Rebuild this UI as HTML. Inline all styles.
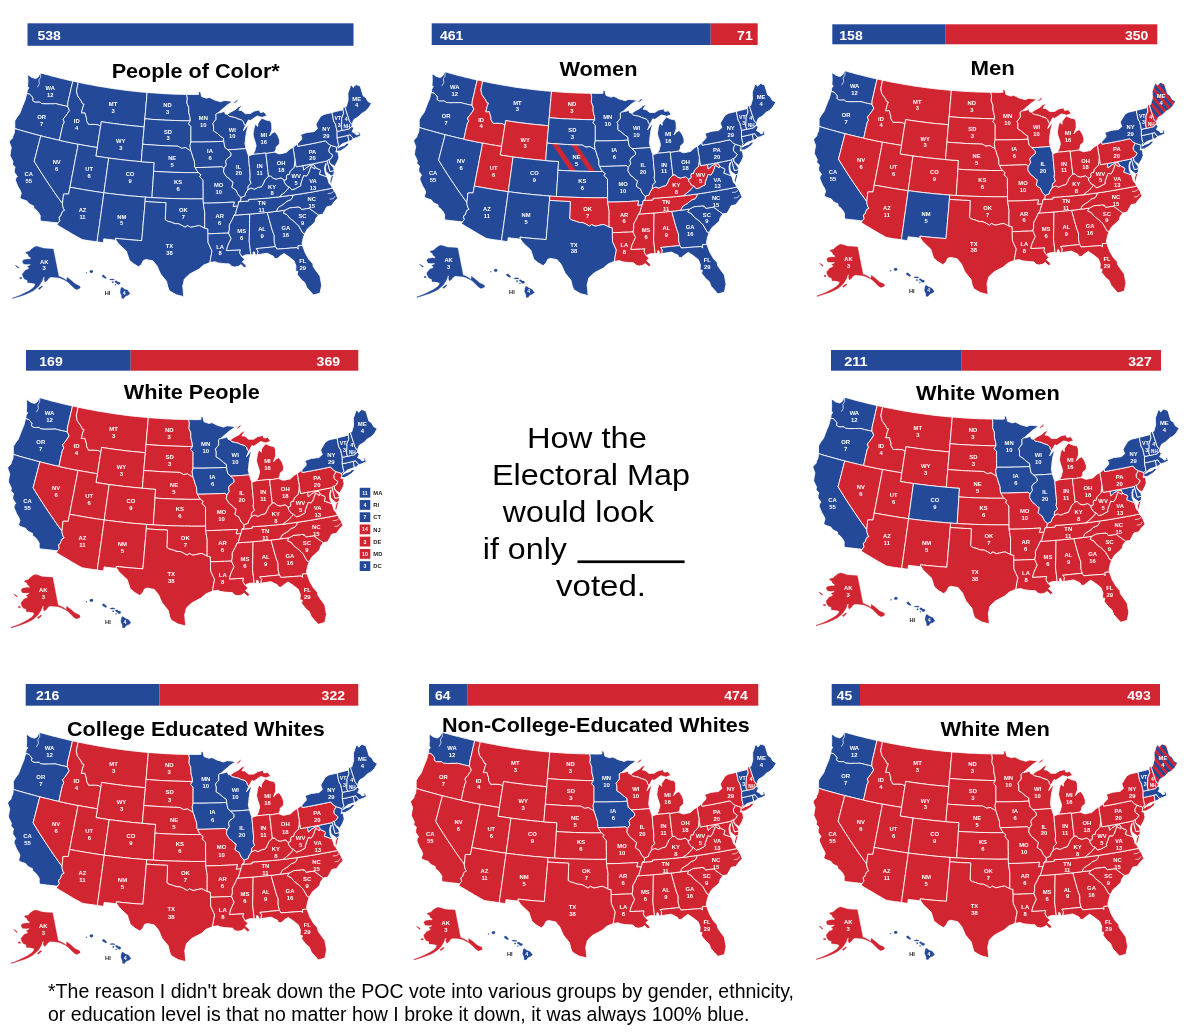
<!DOCTYPE html>
<html><head><meta charset="utf-8"><title>Electoral Map</title>
<style>
html,body{margin:0;padding:0;background:#fff;}
body{width:1200px;height:1032px;overflow:hidden;}
svg{display:block;font-family:"Liberation Sans",Arial,sans-serif;}
.t{font-weight:700;font-size:21px;fill:#000;}
.b{font-weight:700;font-size:13.7px;fill:#fff;}
.l{font-weight:700;font-size:5.2px;fill:#fff;text-anchor:middle;}
.st use{stroke:#fff;stroke-width:0.85;stroke-linejoin:round;}
.c{font-size:29px;fill:#000;}
.f{font-size:19.4px;fill:#000;}
</style></head><body>
<svg width="1200" height="1032" viewBox="0 0 1200 1032">
<defs>
<pattern id="sb" width="60" height="10" patternUnits="userSpaceOnUse" patternTransform="translate(148.7,146.8) rotate(-34)"><rect width="60" height="10" fill="#244999"/><path d="M0,0h4.8v10h-4.8zM15.5,0h4.8v10h-4.8z" fill="#d22532"/></pattern>
<pattern id="sr" width="5.6" height="10" patternUnits="userSpaceOnUse" patternTransform="translate(349.5,85) rotate(-40)"><rect width="5.6" height="10" fill="#244999"/><rect width="2.8" height="10" fill="#d22532"/></pattern>

<path id="sWA" d="M26.8,93.5 27.4,90.1 28.9,87.8 27.6,87.0 27.7,84.3 27.9,81.7 27.8,79.2 27.7,76.6 28.1,74.7 29.9,76.1 31.7,77.4 33.7,78.0 35.7,78.6 38.2,77.1 39.6,74.4 40.7,72.9 43.3,73.7 46.0,74.4 48.6,75.1 51.3,75.9 54.0,76.6 56.7,77.2 59.3,77.9 62.0,78.6 64.7,79.2 67.4,79.9 70.1,80.5 72.8,81.1 72.0,84.7 71.1,88.3 70.3,91.9 69.5,95.5 68.6,99.1 67.8,102.8 67.7,106.5 65.3,105.9 62.8,105.4 60.4,104.8 58.0,104.2 55.6,103.6 53.5,103.8 51.3,103.8 49.1,103.8 45.9,103.9 43.8,103.7 41.6,103.6 40.1,102.1 37.6,102.2 35.0,102.2 32.5,100.6 33.0,98.1 31.2,95.7 29.7,94.3Z"/>
<path id="sOR" d="M14.8,128.5 14.8,124.0 14.8,120.9 16.9,117.3 19.7,113.6 21.3,109.5 22.8,105.5 24.0,102.7 25.2,99.8 26.0,96.7 26.8,93.5 29.7,94.3 31.2,95.7 33.0,98.1 32.5,100.6 35.0,102.2 37.6,102.2 40.1,102.1 41.6,103.6 43.8,103.7 45.9,103.9 49.1,103.8 51.3,103.8 53.5,103.8 55.6,103.6 58.0,104.2 60.4,104.8 62.8,105.4 65.3,105.9 67.7,106.5 69.5,110.4 67.5,113.5 66.1,115.5 63.1,119.2 63.9,121.2 64.3,122.2 62.9,124.7 62.0,128.6 61.1,132.5 60.3,136.4 59.4,140.3 56.3,139.6 53.2,138.9 50.1,138.1 47.0,137.4 43.9,136.6 40.8,135.8 37.9,135.1 35.0,134.3 32.1,133.5 29.2,132.7 26.3,131.9 23.4,131.1 20.5,130.3 17.6,129.4Z"/>
<path id="sCA" d="M40.4,221.0 40.1,218.1 40.3,215.8 38.7,212.8 35.8,209.4 33.8,208.5 33.7,206.0 31.4,204.9 29.1,203.8 26.8,200.9 24.0,200.0 21.1,199.0 20.0,197.4 21.3,193.2 20.1,190.2 18.1,186.9 16.8,183.8 15.5,180.7 15.8,178.1 17.3,176.7 16.3,175.1 14.3,172.2 14.4,169.5 15.1,167.0 12.3,164.3 13.0,161.8 11.5,158.6 10.0,155.5 10.6,151.1 11.3,147.6 9.4,142.5 9.5,141.1 12.6,137.9 12.8,136.2 14.3,133.0 14.8,128.5 17.6,129.4 20.5,130.3 23.4,131.1 26.3,131.9 29.2,132.7 32.1,133.5 35.0,134.3 37.9,135.1 40.8,135.8 39.7,140.1 38.6,144.3 37.5,148.5 36.4,152.8 35.3,157.0 34.2,161.2 36.6,165.1 39.0,169.0 41.5,172.9 44.0,176.8 46.5,180.6 49.1,184.5 51.7,188.3 54.3,192.2 57.0,196.0 59.7,199.8 62.5,203.6 62.6,205.4 63.5,208.7 64.7,210.3 62.4,211.6 61.5,213.9 60.7,216.1 59.0,217.2 59.9,220.6 58.0,223.0 54.4,222.6 50.9,222.2 47.4,221.8 43.9,221.4Z"/>
<path id="sNV" d="M40.8,135.8 43.9,136.6 47.0,137.4 50.1,138.1 53.2,138.9 56.3,139.6 59.4,140.3 62.5,141.0 65.7,141.7 68.8,142.3 71.9,143.0 75.1,143.6 78.2,144.2 77.4,148.5 76.6,152.8 75.7,157.1 74.9,161.4 74.1,165.7 73.3,170.0 72.4,174.3 71.6,178.6 70.8,182.9 69.9,187.2 69.3,190.6 68.6,194.1 66.0,194.0 63.5,194.1 63.3,196.7 63.0,199.2 62.5,203.6 59.7,199.8 57.0,196.0 54.3,192.2 51.7,188.3 49.1,184.5 46.5,180.6 44.0,176.8 41.5,172.9 39.0,169.0 36.6,165.1 34.2,161.2 35.3,157.0 36.4,152.8 37.5,148.5 38.6,144.3 39.7,140.1Z"/>
<path id="sID" d="M72.8,81.1 75.6,81.7 78.3,82.3 77.7,85.2 77.1,88.0 76.5,90.9 77.0,93.3 77.6,95.8 79.2,98.1 80.9,100.4 82.6,103.8 84.1,104.1 82.7,107.8 82.1,110.4 81.4,112.9 83.2,112.8 84.9,112.7 85.7,115.5 86.6,118.3 86.5,120.5 88.6,124.4 90.9,124.4 93.1,124.3 95.6,124.5 98.0,124.7 100.6,126.2 99.9,130.5 99.2,134.7 98.6,139.0 97.9,143.3 97.2,147.5 94.0,147.0 90.9,146.5 87.7,145.9 84.5,145.4 81.4,144.8 78.2,144.2 75.1,143.6 71.9,143.0 68.8,142.3 65.7,141.7 62.5,141.0 59.4,140.3 60.3,136.4 61.1,132.5 62.0,128.6 62.9,124.7 64.3,122.2 63.9,121.2 63.1,119.2 66.1,115.5 67.5,113.5 69.5,110.4 67.7,106.5 67.8,102.8 68.6,99.1 69.5,95.5 70.3,91.9 71.1,88.3 72.0,84.7Z"/>
<path id="sMT" d="M78.3,82.3 81.2,82.9 84.0,83.5 86.8,84.1 89.7,84.6 92.5,85.1 95.4,85.7 98.2,86.2 101.1,86.7 104.0,87.1 106.8,87.6 109.7,88.1 112.5,88.5 115.4,88.9 118.3,89.3 121.2,89.7 124.0,90.1 126.9,90.4 129.8,90.8 132.7,91.1 135.5,91.4 138.4,91.7 141.3,92.0 144.2,92.2 147.1,92.5 146.8,96.2 146.5,100.0 146.1,103.7 145.8,107.5 145.5,111.2 145.2,115.0 144.8,118.8 144.5,122.8 144.2,126.9 141.1,126.6 138.0,126.3 134.9,126.0 131.9,125.7 128.8,125.4 125.8,125.1 122.7,124.7 119.6,124.3 116.6,123.9 113.5,123.5 110.5,123.1 107.4,122.6 104.4,122.2 101.3,121.7 101.0,124.0 100.6,126.2 98.0,124.7 95.6,124.5 93.1,124.3 90.9,124.4 88.6,124.4 86.5,120.5 86.6,118.3 85.7,115.5 84.9,112.7 83.2,112.8 81.4,112.9 82.1,110.4 82.7,107.8 84.1,104.1 82.6,103.8 80.9,100.4 79.2,98.1 77.6,95.8 77.0,93.3 76.5,90.9 77.1,88.0 77.7,85.2Z"/>
<path id="sWY" d="M100.6,126.2 101.0,124.0 101.3,121.7 104.4,122.2 107.4,122.6 110.5,123.1 113.5,123.5 116.6,123.9 119.6,124.3 122.7,124.7 125.8,125.1 128.8,125.4 131.9,125.7 134.9,126.0 138.0,126.3 141.1,126.6 144.2,126.9 143.8,131.2 143.4,135.6 143.0,139.9 142.7,144.2 142.3,148.6 141.9,152.9 141.6,157.3 141.2,161.7 137.9,161.4 134.7,161.1 131.4,160.8 128.2,160.4 124.9,160.1 121.7,159.7 118.4,159.3 115.2,158.9 112.0,158.5 108.7,158.1 105.5,157.6 102.3,157.1 99.0,156.6 95.8,156.1 96.5,151.8 97.2,147.5 97.9,143.3 98.6,139.0 99.2,134.7 99.9,130.5Z"/>
<path id="sUT" d="M78.2,144.2 81.4,144.8 84.5,145.4 87.7,145.9 90.9,146.5 94.0,147.0 97.2,147.5 96.5,151.8 95.8,156.1 99.0,156.6 102.3,157.1 105.5,157.6 108.7,158.1 108.1,162.4 107.5,166.7 106.9,171.1 106.3,175.4 105.7,179.7 105.1,184.1 104.5,188.4 103.9,192.8 100.5,192.3 97.1,191.8 93.7,191.3 90.3,190.7 86.9,190.2 83.5,189.6 80.1,189.0 76.7,188.4 73.3,187.8 69.9,187.2 70.8,182.9 71.6,178.6 72.4,174.3 73.3,170.0 74.1,165.7 74.9,161.4 75.7,157.1 76.6,152.8 77.4,148.5Z"/>
<path id="sCO" d="M108.7,158.1 112.0,158.5 115.2,158.9 118.4,159.3 121.7,159.7 124.9,160.1 128.2,160.4 131.4,160.8 134.7,161.1 137.9,161.4 141.2,161.7 144.4,161.9 147.7,162.2 151.0,162.4 154.2,162.6 153.9,167.0 153.6,171.3 153.4,175.7 153.1,180.1 152.8,184.5 152.5,188.8 152.2,193.2 152.0,197.6 148.7,197.4 145.4,197.1 142.2,196.9 139.0,196.6 135.8,196.3 132.6,196.1 129.4,195.8 126.2,195.4 123.0,195.1 119.8,194.7 116.7,194.4 113.5,194.0 110.3,193.6 107.1,193.2 103.9,192.8 104.5,188.4 105.1,184.1 105.7,179.7 106.3,175.4 106.9,171.1 107.5,166.7 108.1,162.4Z"/>
<path id="sAZ" d="M69.9,187.2 73.3,187.8 76.7,188.4 80.1,189.0 83.5,189.6 86.9,190.2 90.3,190.7 93.7,191.3 97.1,191.8 100.5,192.3 103.9,192.8 103.3,196.9 102.8,201.0 102.2,205.0 101.6,209.1 101.1,213.2 100.5,217.3 99.9,221.4 99.4,225.5 98.8,229.6 98.2,233.7 97.6,237.8 97.1,241.8 94.1,241.4 91.1,241.0 88.2,240.6 85.2,240.1 82.2,239.6 79.0,237.8 75.8,236.0 72.6,234.2 69.5,232.3 66.3,230.4 63.2,228.6 60.0,226.7 56.9,224.7 58.0,223.0 59.9,220.6 59.0,217.2 60.7,216.1 61.5,213.9 62.4,211.6 64.7,210.3 63.5,208.7 62.6,205.4 62.5,203.6 63.0,199.2 63.3,196.7 63.5,194.1 66.0,194.0 68.6,194.1 69.3,190.6Z"/>
<path id="sNM" d="M103.9,192.8 107.1,193.2 110.3,193.6 113.5,194.0 116.7,194.4 119.8,194.7 123.0,195.1 126.2,195.4 129.4,195.8 132.6,196.1 135.8,196.3 139.0,196.6 142.2,196.9 145.4,197.1 145.1,201.5 144.7,205.9 144.4,210.2 144.0,214.6 143.6,218.9 143.2,223.3 142.9,227.6 142.5,232.0 142.1,236.3 141.7,240.7 138.5,240.4 135.2,240.2 131.9,239.9 128.7,239.6 125.4,239.3 122.2,239.0 118.9,238.6 115.6,238.3 116.1,240.2 113.0,239.9 109.9,239.5 106.8,239.2 103.8,238.8 103.3,242.7 100.2,242.3 97.1,241.8 97.6,237.8 98.2,233.7 98.8,229.6 99.4,225.5 99.9,221.4 100.5,217.3 101.1,213.2 101.6,209.1 102.2,205.0 102.8,201.0 103.3,196.9Z"/>
<path id="sND" d="M147.1,92.5 149.9,92.7 152.7,92.9 155.5,93.1 158.4,93.3 161.2,93.5 164.0,93.7 166.8,93.8 169.6,93.9 172.5,94.1 175.3,94.2 178.1,94.2 180.9,94.3 183.7,94.4 186.6,94.4 187.3,97.9 187.1,100.4 186.9,103.0 188.7,107.3 188.7,109.9 188.8,112.5 189.4,115.1 190.1,117.7 190.3,120.8 187.3,120.8 184.2,120.8 181.2,120.7 178.2,120.6 175.1,120.5 172.1,120.4 169.1,120.3 166.0,120.2 163.0,120.0 160.0,119.9 156.9,119.7 153.9,119.5 150.9,119.3 147.9,119.0 144.8,118.8 145.2,115.0 145.5,111.2 145.8,107.5 146.1,103.7 146.5,100.0 146.8,96.2Z"/>
<path id="sSD" d="M144.8,118.8 147.9,119.0 150.9,119.3 153.9,119.5 156.9,119.7 160.0,119.9 163.0,120.0 166.0,120.2 169.1,120.3 172.1,120.4 175.1,120.5 178.2,120.6 181.2,120.7 184.2,120.8 187.3,120.8 190.3,120.8 188.5,123.8 190.9,126.4 190.9,130.3 190.9,134.2 190.9,138.1 190.9,142.0 190.0,145.5 190.4,148.2 190.8,150.8 189.2,149.9 187.3,148.8 185.4,147.6 183.5,148.0 181.6,148.3 179.7,147.2 177.8,146.2 174.9,146.1 172.0,146.0 169.0,145.9 166.1,145.8 163.2,145.6 160.2,145.5 157.3,145.3 154.4,145.1 151.4,144.9 148.5,144.7 145.6,144.5 142.7,144.2 143.0,139.9 143.4,135.6 143.8,131.2 144.2,126.9 144.5,122.8Z"/>
<path id="sNE" d="M142.7,144.2 145.6,144.5 148.5,144.7 151.4,144.9 154.4,145.1 157.3,145.3 160.2,145.5 163.2,145.6 166.1,145.8 169.0,145.9 172.0,146.0 174.9,146.1 177.8,146.2 179.7,147.2 181.6,148.3 183.5,148.0 185.4,147.6 187.3,148.8 189.2,149.9 190.8,150.8 191.8,153.4 193.1,157.7 194.4,161.2 194.5,163.9 194.7,166.5 195.2,167.5 196.7,170.4 198.3,172.6 195.1,172.6 191.9,172.6 188.8,172.6 185.6,172.6 182.4,172.5 179.2,172.4 176.0,172.4 172.8,172.3 169.6,172.2 166.4,172.0 163.2,171.9 160.0,171.7 156.8,171.5 153.6,171.3 153.9,167.0 154.2,162.6 151.0,162.4 147.7,162.2 144.4,161.9 141.2,161.7 141.6,157.3 141.9,152.9 142.3,148.6Z"/>
<path id="sKS" d="M153.6,171.3 156.8,171.5 160.0,171.7 163.2,171.9 166.4,172.0 169.6,172.2 172.8,172.3 176.0,172.4 179.2,172.4 182.4,172.5 185.6,172.6 188.8,172.6 191.9,172.6 195.1,172.6 198.3,172.6 201.0,174.8 199.7,176.5 203.1,180.3 203.1,184.0 203.1,187.7 203.2,191.4 203.2,195.1 203.2,198.8 199.8,198.9 196.4,198.9 193.0,198.9 189.5,198.9 186.1,198.8 182.7,198.8 179.3,198.7 175.9,198.6 172.5,198.5 169.0,198.4 165.6,198.3 162.2,198.1 158.8,198.0 155.4,197.8 152.0,197.6 152.2,193.2 152.5,188.8 152.8,184.5 153.1,180.1 153.4,175.7Z"/>
<path id="sOK" d="M152.0,197.6 155.4,197.8 158.8,198.0 162.2,198.1 165.6,198.3 169.0,198.4 172.5,198.5 175.9,198.6 179.3,198.7 182.7,198.8 186.1,198.8 189.5,198.9 193.0,198.9 196.4,198.9 199.8,198.9 203.2,198.8 203.3,203.2 203.8,206.4 204.3,209.6 204.8,212.8 204.7,216.7 204.7,220.5 204.7,224.4 204.7,228.2 202.1,226.9 199.4,225.6 196.6,226.0 193.7,226.7 190.8,227.3 187.2,225.6 185.1,227.3 181.5,225.2 178.6,223.8 175.1,223.6 172.9,222.9 170.8,222.1 167.3,221.1 165.2,219.7 165.4,215.4 165.6,211.2 165.7,206.9 165.9,202.7 162.4,202.5 159.0,202.4 155.5,202.2 152.0,202.0 148.6,201.7 145.1,201.5 145.4,197.1 148.7,197.4Z"/>
<path id="sTX" d="M145.1,201.5 148.6,201.7 152.0,202.0 155.5,202.2 159.0,202.4 162.4,202.5 165.9,202.7 165.7,206.9 165.6,211.2 165.4,215.4 165.2,219.7 167.3,221.1 170.8,222.1 172.9,222.9 175.1,223.6 178.6,223.8 181.5,225.2 185.1,227.3 187.2,225.6 190.8,227.3 193.7,226.7 196.6,226.0 199.4,225.6 202.1,226.9 204.7,228.2 207.9,228.9 207.9,231.3 208.0,233.7 208.0,238.1 208.1,242.5 210.0,246.8 212.0,251.1 211.4,254.1 210.8,257.2 210.4,259.8 210.0,262.4 206.8,263.8 203.6,265.1 201.3,267.1 199.1,269.1 196.0,270.7 192.9,272.3 189.9,273.9 187.1,276.4 184.4,279.0 183.6,282.4 182.7,285.9 183.1,289.5 183.4,293.1 183.8,296.7 180.0,295.7 176.3,294.8 172.8,292.8 169.3,290.7 167.8,286.8 167.2,284.0 166.5,281.2 163.5,277.6 160.6,274.0 158.8,270.0 157.1,266.0 155.0,263.4 152.8,260.8 149.5,260.2 146.1,259.5 143.4,260.4 141.6,264.2 138.7,266.8 136.2,265.3 133.6,263.8 131.5,262.0 129.3,260.2 128.2,256.6 127.3,253.9 126.4,251.2 123.6,248.6 120.9,246.0 118.2,243.4 116.1,240.2 115.6,238.3 118.9,238.6 122.2,239.0 125.4,239.3 128.7,239.6 131.9,239.9 135.2,240.2 138.5,240.4 141.7,240.7 142.1,236.3 142.5,232.0 142.9,227.6 143.2,223.3 143.6,218.9 144.0,214.6 144.4,210.2 144.7,205.9Z"/>
<path id="sMN" d="M186.6,94.4 189.0,94.4 191.4,94.5 193.8,94.5 196.2,94.5 198.6,94.4 198.6,91.2 200.6,91.8 201.1,94.2 201.6,96.5 204.0,97.4 206.5,98.2 209.4,97.4 212.1,98.7 214.8,100.1 217.8,100.9 220.7,101.8 222.5,101.1 224.2,100.5 226.6,100.7 228.9,100.9 230.7,101.2 232.5,101.5 229.7,103.4 226.8,105.3 224.6,107.3 222.3,109.2 220.0,111.3 217.7,113.3 217.1,113.3 215.9,114.3 216.0,116.8 216.1,119.3 214.4,121.4 212.8,123.5 213.6,126.0 213.6,128.4 213.5,130.8 216.7,132.9 218.6,134.5 220.5,136.2 223.5,138.2 223.8,141.3 220.8,141.4 217.8,141.6 214.8,141.7 211.8,141.8 208.8,141.8 205.8,141.9 202.8,142.0 199.9,142.0 196.9,142.0 193.9,142.0 190.9,142.0 190.9,138.1 190.9,134.2 190.9,130.3 190.9,126.4 188.5,123.8 190.3,120.8 190.1,117.7 189.4,115.1 188.8,112.5 188.7,109.9 188.7,107.3 186.9,103.0 187.1,100.4 187.3,97.9Z"/>
<path id="sIA" d="M190.9,142.0 193.9,142.0 196.9,142.0 199.9,142.0 202.8,142.0 205.8,141.9 208.8,141.8 211.8,141.8 214.8,141.7 217.8,141.6 220.8,141.4 223.8,141.3 224.3,144.3 224.9,147.3 227.9,149.8 231.0,153.1 231.1,155.7 229.0,157.4 226.8,159.0 225.6,161.3 226.4,164.8 224.0,168.4 221.9,166.7 219.0,166.9 216.0,167.0 213.0,167.1 210.1,167.2 207.1,167.3 204.1,167.4 201.2,167.5 198.2,167.5 195.2,167.5 194.7,166.5 194.5,163.9 194.4,161.2 193.1,157.7 191.8,153.4 190.8,150.8 190.4,148.2 190.0,145.5Z"/>
<path id="sMO" d="M195.2,167.5 198.2,167.5 201.2,167.5 204.1,167.4 207.1,167.3 210.1,167.2 213.0,167.1 216.0,167.0 219.0,166.9 221.9,166.7 224.0,168.4 223.5,171.9 224.9,174.3 226.4,176.6 229.2,178.6 231.0,180.7 233.1,181.9 232.8,183.7 231.9,187.3 234.2,189.0 235.7,189.7 237.0,192.2 238.2,194.8 241.0,197.4 240.8,200.7 238.8,201.7 238.3,204.4 237.7,206.2 235.4,206.3 233.1,206.5 234.3,202.0 230.9,202.2 227.4,202.4 224.0,202.6 220.5,202.7 217.1,202.9 213.6,203.0 210.2,203.1 206.7,203.1 203.3,203.2 203.2,198.8 203.2,195.1 203.2,191.4 203.1,187.7 203.1,184.0 203.1,180.3 199.7,176.5 201.0,174.8 198.3,172.6 196.7,170.4Z"/>
<path id="sAR" d="M203.3,203.2 206.7,203.1 210.2,203.1 213.6,203.0 217.1,202.9 220.5,202.7 224.0,202.6 227.4,202.4 230.9,202.2 234.3,202.0 233.1,206.5 235.4,206.3 237.7,206.2 236.3,210.7 235.4,214.2 234.1,215.2 232.2,219.7 230.7,222.4 229.3,225.1 229.4,229.5 228.6,233.0 225.2,233.2 221.7,233.3 218.3,233.4 214.8,233.6 211.4,233.7 208.0,233.7 207.9,231.3 207.9,228.9 204.7,228.2 204.7,224.4 204.7,220.5 204.7,216.7 204.8,212.8 204.3,209.6 203.8,206.4Z"/>
<path id="sLA" d="M208.0,233.7 211.4,233.7 214.8,233.6 218.3,233.4 221.7,233.3 225.2,233.2 228.6,233.0 229.8,235.8 231.1,238.6 229.4,242.1 227.8,245.7 227.1,248.1 226.5,250.6 230.0,250.4 233.5,250.2 236.9,250.0 240.4,249.8 239.7,252.9 241.9,256.7 243.5,258.3 244.7,259.5 242.2,261.8 245.5,264.7 246.8,266.7 244.1,267.5 240.9,264.5 238.7,266.2 234.9,267.1 231.8,266.4 229.4,263.9 227.3,263.8 225.2,263.7 221.8,263.4 218.0,262.9 214.9,261.7 212.4,262.1 210.0,262.4 210.4,259.8 210.8,257.2 211.4,254.1 212.0,251.1 210.0,246.8 208.1,242.5 208.0,238.1Z"/>
<path id="sMS" d="M234.1,215.2 237.0,215.0 240.0,214.8 243.0,214.6 246.0,214.4 248.9,214.1 249.7,215.0 249.6,219.4 249.5,223.7 249.5,228.1 249.4,232.5 249.3,236.9 249.2,241.3 249.6,244.6 250.0,248.0 250.4,251.3 250.8,254.7 248.5,254.7 246.3,254.8 243.7,255.7 241.9,256.7 239.7,252.9 240.4,249.8 236.9,250.0 233.5,250.2 230.0,250.4 226.5,250.6 227.1,248.1 227.8,245.7 229.4,242.1 231.1,238.6 229.8,235.8 228.6,233.0 229.4,229.5 229.3,225.1 230.7,222.4 232.2,219.7Z"/>
<path id="sAL" d="M248.9,214.1 252.0,213.9 255.0,213.6 258.1,213.3 261.2,213.0 264.2,212.7 267.3,212.4 268.3,216.0 269.3,219.7 270.3,223.3 271.3,226.9 272.4,230.6 273.3,233.0 274.2,235.3 274.2,238.6 274.3,241.9 274.9,244.3 275.5,246.6 272.3,247.0 269.1,247.3 265.9,247.6 262.7,248.0 259.5,248.3 256.3,248.6 258.0,251.0 257.4,254.7 255.5,255.2 254.3,251.8 253.2,251.9 253.1,254.9 250.8,254.7 250.4,251.3 250.0,248.0 249.6,244.6 249.2,241.3 249.3,236.9 249.4,232.5 249.5,228.1 249.5,223.7 249.6,219.4 249.7,215.0Z"/>
<path id="sGA" d="M267.3,212.4 270.3,212.1 273.3,211.7 276.3,211.3 279.1,211.0 282.0,210.6 284.9,210.2 283.4,213.1 286.9,214.6 290.0,218.4 292.2,220.0 294.4,221.7 296.6,223.8 298.7,225.9 300.8,229.6 302.9,233.2 304.8,233.5 303.2,238.0 302.7,240.5 302.1,243.0 302.5,245.4 300.3,245.6 298.0,245.8 298.2,249.2 296.8,247.6 293.5,247.9 290.2,248.1 286.8,248.4 283.5,248.6 280.2,248.9 276.9,249.1 275.5,246.6 274.9,244.3 274.3,241.9 274.2,238.6 274.2,235.3 273.3,233.0 272.4,230.6 271.3,226.9 270.3,223.3 269.3,219.7 268.3,216.0Z"/>
<path id="sFL" d="M275.5,246.6 276.9,249.1 280.2,248.9 283.5,248.6 286.8,248.4 290.2,248.1 293.5,247.9 296.8,247.6 298.2,249.2 298.0,245.8 300.3,245.6 302.5,245.4 303.9,249.3 305.3,253.1 307.1,256.3 309.0,259.5 310.9,261.6 312.8,263.7 313.3,266.7 315.5,269.9 317.7,273.0 320.0,276.1 320.5,279.2 321.1,282.3 321.6,285.4 320.8,289.3 320.1,293.1 316.8,294.1 313.5,295.0 310.1,291.2 306.7,287.4 305.7,284.9 304.7,282.5 301.5,279.9 299.4,277.2 297.2,274.4 297.9,271.3 295.6,271.2 295.8,268.5 296.0,265.9 295.0,263.4 294.1,260.9 291.5,258.8 288.9,256.8 286.4,255.1 283.9,253.5 281.5,255.1 279.2,256.9 277.0,258.7 274.2,258.3 273.7,256.4 270.4,254.8 267.2,253.2 264.0,253.7 260.7,254.2 257.4,254.7 258.0,251.0 256.3,248.6 259.5,248.3 262.7,248.0 265.9,247.6 269.1,247.3 272.3,247.0Z"/>
<path id="sSC" d="M284.9,210.2 287.2,209.0 289.5,207.8 292.7,207.5 295.9,207.2 299.0,206.8 299.2,207.7 299.9,207.1 301.4,209.4 304.0,209.0 306.6,208.6 309.2,208.3 312.3,210.5 315.4,212.8 318.5,215.0 315.9,218.6 315.0,221.9 311.9,225.1 309.6,227.0 307.4,228.9 304.8,233.5 302.9,233.2 300.8,229.6 298.7,225.9 296.6,223.8 294.4,221.7 292.2,220.0 290.0,218.4 286.9,214.6 283.4,213.1Z"/>
<path id="sNC" d="M292.7,195.1 296.0,194.6 299.4,194.1 302.7,193.6 306.0,193.0 309.3,192.5 312.6,191.9 315.9,191.3 319.2,190.7 322.5,190.1 325.9,189.5 329.1,188.8 332.4,188.2 334.2,190.9 335.9,193.7 336.8,196.0 337.7,198.2 336.0,199.9 334.4,201.6 332.9,203.7 331.3,205.9 329.0,206.3 326.8,206.8 324.8,210.5 322.8,214.2 320.7,214.6 318.5,215.0 315.4,212.8 312.3,210.5 309.2,208.3 306.6,208.6 304.0,209.0 301.4,209.4 299.9,207.1 299.2,207.7 299.0,206.8 295.9,207.2 292.7,207.5 289.5,207.8 287.2,209.0 284.9,210.2 282.0,210.6 279.1,211.0 276.3,211.3 278.1,207.6 280.7,205.9 283.3,204.3 285.2,202.7 287.1,201.1 289.0,200.4 290.8,199.7 292.5,197.2Z"/>
<path id="sTN" d="M238.8,201.7 242.1,201.5 245.4,201.3 248.7,201.0 248.6,199.4 252.0,199.2 255.4,199.0 258.7,198.7 262.1,198.5 265.5,198.2 268.9,197.9 272.2,197.6 275.6,197.2 279.0,196.9 282.4,196.5 285.8,196.0 289.3,195.5 292.7,195.1 292.5,197.2 290.8,199.7 289.0,200.4 287.1,201.1 285.2,202.7 283.3,204.3 280.7,205.9 278.1,207.6 276.3,211.3 273.3,211.7 270.3,212.1 267.3,212.4 264.2,212.7 261.2,213.0 258.1,213.3 255.0,213.6 252.0,213.9 248.9,214.1 246.0,214.4 243.0,214.6 240.0,214.8 237.0,215.0 234.1,215.2 235.4,214.2 236.3,210.7 237.7,206.2 238.3,204.4Z"/>
<path id="sKY" d="M241.0,197.4 242.8,196.7 244.7,196.0 245.5,193.3 247.9,189.6 251.2,188.0 254.4,189.2 256.4,188.3 258.3,187.4 261.7,186.6 263.1,184.0 265.0,179.8 266.8,178.0 268.5,176.1 270.7,175.9 273.0,178.2 276.2,179.1 278.6,178.5 281.1,177.8 284.1,180.1 284.4,182.3 287.1,186.1 289.5,187.1 287.3,189.6 285.1,192.1 282.1,194.5 279.0,196.9 275.6,197.2 272.2,197.6 268.9,197.9 265.5,198.2 262.1,198.5 258.7,198.7 255.4,199.0 252.0,199.2 248.6,199.4 248.7,201.0 245.4,201.3 242.1,201.5 238.8,201.7 240.8,200.7Z"/>
<path id="sVA" d="M289.5,187.1 291.9,189.8 295.0,188.9 297.9,187.3 300.9,185.7 300.6,184.0 302.1,179.7 303.6,175.5 306.6,176.0 308.5,173.1 309.7,169.7 310.8,166.4 312.8,167.6 314.8,168.7 315.2,166.9 317.0,168.5 319.8,169.5 320.6,170.6 319.5,174.3 322.1,175.1 324.5,176.0 327.0,176.8 328.2,180.1 329.1,183.5 331.0,185.1 332.4,188.2 329.1,188.8 325.9,189.5 322.5,190.1 319.2,190.7 315.9,191.3 312.6,191.9 309.3,192.5 306.0,193.0 302.7,193.6 299.4,194.1 296.0,194.6 292.7,195.1 289.3,195.5 285.8,196.0 282.4,196.5 279.0,196.9 282.1,194.5 285.1,192.1 287.3,189.6ZM333.9,174.6 331.3,175.9 330.7,178.5 330.0,181.1 330.4,183.5 331.4,183.6 332.5,179.2Z"/>
<path id="sWV" d="M284.1,180.1 286.1,179.6 286.7,178.0 286.3,176.4 287.4,174.3 289.1,174.7 290.0,171.5 292.0,169.4 294.1,167.3 294.7,162.7 294.9,158.8 295.5,162.8 296.2,166.8 298.5,166.4 300.7,166.0 303.0,165.6 303.4,167.8 303.8,170.1 305.4,168.7 306.9,167.3 308.6,166.3 310.2,165.2 312.1,164.9 314.0,164.7 315.2,166.9 314.8,168.7 312.8,167.6 310.8,166.4 309.7,169.7 308.5,173.1 306.6,176.0 303.6,175.5 302.1,179.7 300.6,184.0 300.9,185.7 297.9,187.3 295.0,188.9 291.9,189.8 289.5,187.1 287.1,186.1 284.4,182.3Z"/>
<path id="sMD" d="M303.0,165.6 306.0,165.1 309.0,164.5 312.1,164.0 315.1,163.4 318.1,162.8 321.1,162.2 324.1,161.6 327.1,160.9 328.1,164.5 329.0,168.0 330.0,171.6 332.2,171.1 334.3,170.6 333.9,174.6 331.3,175.9 328.9,174.2 325.9,171.6 325.4,167.7 326.2,163.5 325.7,163.6 324.6,167.9 325.0,172.3 326.3,175.6 327.0,176.8 324.5,176.0 322.1,175.1 319.5,174.3 320.6,170.6 319.8,169.5 317.0,168.5 315.2,166.9 314.0,164.7 312.1,164.9 310.2,165.2 308.6,166.3 306.9,167.3 305.4,168.7 303.8,170.1 303.4,167.8Z"/>
<path id="sDE" d="M327.1,160.9 328.1,159.7 329.3,159.7 329.3,162.4 330.9,164.7 333.5,167.8 334.3,170.6 332.2,171.1 330.0,171.6 329.0,168.0 328.1,164.5Z"/>
<path id="sPA" d="M293.0,147.2 295.2,145.6 297.4,143.9 297.8,146.3 300.9,145.7 304.0,145.2 307.1,144.6 310.2,144.0 313.3,143.4 316.4,142.8 319.5,142.1 322.5,141.5 325.6,140.8 328.3,143.8 331.0,145.4 329.0,149.2 329.1,152.1 332.9,155.3 331.2,158.4 329.3,159.7 328.1,159.7 327.1,160.9 324.1,161.6 321.1,162.2 318.1,162.8 315.1,163.4 312.1,164.0 309.0,164.5 306.0,165.1 303.0,165.6 300.7,166.0 298.5,166.4 296.2,166.8 295.5,162.8 294.9,158.8 294.2,155.0 293.6,151.1Z"/>
<path id="sNJ" d="M329.3,159.7 329.6,162.3 331.4,164.5 333.5,165.5 334.5,166.7 335.9,164.1 337.4,161.5 338.9,157.6 338.4,154.7 337.9,151.9 335.8,152.0 336.5,150.0 336.8,147.3 333.9,146.3 331.0,145.4 329.0,149.2 329.1,152.1 332.9,155.3 331.2,158.4Z"/>
<path id="sNY" d="M297.4,143.9 299.4,141.7 301.5,139.4 301.8,137.6 300.3,134.7 302.4,134.0 304.5,133.3 306.7,132.5 309.2,132.2 311.7,131.9 314.2,131.6 315.8,130.2 317.5,128.7 316.7,126.5 315.9,124.2 318.2,120.3 320.5,116.5 322.2,115.5 323.9,114.4 326.6,113.8 329.3,113.2 332.0,112.5 332.8,116.8 333.7,121.1 335.5,124.2 336.3,127.8 337.1,131.4 337.1,134.6 337.1,137.7 337.7,141.0 338.4,144.2 339.0,144.8 337.6,146.2 338.4,147.1 338.0,148.3 340.6,146.6 342.8,145.9 345.0,145.1 346.5,143.3 349.6,143.4 347.9,145.3 346.2,147.2 343.3,149.1 340.3,150.9 338.6,151.1 336.8,151.3 336.5,150.0 336.8,147.3 333.9,146.3 331.0,145.4 328.3,143.8 325.6,140.8 322.5,141.5 319.5,142.1 316.4,142.8 313.3,143.4 310.2,144.0 307.1,144.6 304.0,145.2 300.9,145.7 297.8,146.3Z"/>
<path id="sCT" d="M337.1,137.7 339.8,137.2 342.5,136.6 345.1,136.0 347.8,135.3 348.4,138.3 349.0,141.3 346.9,142.1 344.7,142.9 342.6,143.6 340.5,145.3 338.4,147.1 337.6,146.2 339.0,144.8 338.4,144.2 337.7,141.0Z"/>
<path id="sRI" d="M347.8,135.3 350.4,134.7 350.7,135.7 352.3,137.2 353.2,138.6 351.2,140.5 349.0,141.3 348.4,138.3Z"/>
<path id="sMA" d="M337.1,131.4 339.6,130.9 342.2,130.4 344.6,129.9 347.0,129.3 349.4,128.8 350.8,126.9 351.9,126.6 353.8,128.1 352.1,131.7 354.5,132.9 355.7,133.9 356.4,135.0 358.8,134.2 357.3,132.1 359.7,132.3 360.6,135.7 358.5,136.7 356.5,137.7 354.0,138.4 353.2,138.6 352.3,137.2 350.7,135.7 350.4,134.7 347.8,135.3 345.1,136.0 342.5,136.6 339.8,137.2 337.1,137.7 337.1,134.6Z"/>
<path id="sVT" d="M332.0,112.5 334.7,111.8 337.5,111.1 340.2,110.4 343.0,109.7 343.6,113.2 341.7,118.2 341.7,121.8 341.5,124.5 341.4,127.2 342.2,130.4 339.6,130.9 337.1,131.4 336.3,127.8 335.5,124.2 333.7,121.1 332.8,116.8Z"/>
<path id="sNH" d="M343.0,109.7 343.1,107.5 344.8,106.6 346.0,110.2 347.1,113.7 348.3,117.3 349.4,120.9 351.1,123.5 352.2,124.7 351.9,126.6 350.8,126.9 349.4,128.8 347.0,129.3 344.6,129.9 342.2,130.4 341.4,127.2 341.5,124.5 341.7,121.8 341.7,118.2 343.6,113.2Z"/>
<path id="sME" d="M344.8,106.6 346.3,106.6 347.2,103.5 348.1,100.3 348.0,96.7 347.9,93.2 349.3,89.4 350.5,85.6 351.9,85.5 353.1,87.4 354.6,86.0 356.0,84.5 358.1,85.3 360.2,86.0 361.2,89.3 362.2,92.6 363.2,95.9 366.0,97.8 367.8,101.3 371.4,103.4 370.0,105.7 368.6,108.1 366.9,109.8 365.1,111.5 363.3,112.5 361.5,113.5 359.5,115.8 357.9,117.0 356.3,118.1 354.0,119.4 352.6,122.5 352.2,124.7 351.1,123.5 349.4,120.9 348.3,117.3 347.1,113.7 346.0,110.2Z"/>
<path id="sMI" d="M252.9,154.4 255.5,154.1 258.1,153.9 260.7,153.6 263.3,153.3 265.8,153.0 265.9,153.5 268.8,153.1 271.7,152.6 274.6,152.2 276.1,149.1 276.2,146.9 277.9,145.4 279.6,143.8 279.6,140.3 278.7,137.8 277.7,135.3 275.0,131.7 272.3,132.9 269.6,135.9 270.8,132.9 271.9,129.9 271.8,126.8 271.7,123.8 270.4,120.9 268.4,120.5 266.3,120.1 264.2,119.2 262.1,118.2 260.7,119.5 259.2,121.6 257.8,123.7 257.8,126.4 255.3,124.0 253.9,128.5 253.5,131.4 253.0,134.3 253.6,137.3 254.5,140.1 255.4,142.8 256.1,145.8 255.4,148.5 254.7,151.2ZM227.3,114.4 229.1,113.2 230.8,111.9 233.5,110.6 236.0,109.2 238.5,106.7 240.4,106.1 242.3,105.5 240.1,108.0 238.8,110.3 241.5,110.5 243.5,112.1 245.4,113.7 247.9,113.6 250.3,113.6 252.3,112.3 254.3,111.1 256.9,110.5 259.6,109.9 260.1,112.3 262.3,112.3 263.7,111.7 265.5,113.7 267.0,115.7 264.6,116.5 262.2,117.4 259.7,116.7 257.2,116.0 254.9,117.5 252.7,119.0 250.4,120.6 248.5,119.9 246.9,122.9 245.3,125.8 243.9,123.8 243.4,121.7 241.7,120.1 239.6,119.4 237.4,118.7 235.5,117.7 233.4,117.2 231.3,116.7 229.2,116.3ZM233.2,103.1 236.0,100.4 238.5,98.7 237.5,101.3 236.0,102.5 234.4,103.6Z"/>
<path id="sWI" d="M217.1,113.3 219.8,112.7 222.4,112.1 224.5,111.3 225.2,113.8 227.3,114.4 229.2,116.3 231.3,116.7 233.4,117.2 235.5,117.7 237.4,118.7 239.6,119.4 241.7,120.1 243.4,121.7 243.9,123.8 245.3,125.8 244.3,128.3 243.3,130.8 245.9,127.5 248.6,124.2 247.5,128.0 246.5,131.9 246.1,134.5 245.7,137.2 245.4,140.5 245.0,143.8 245.5,146.2 246.1,148.6 243.0,148.8 240.0,149.1 237.0,149.3 233.9,149.5 230.9,149.6 227.9,149.8 224.9,147.3 224.3,144.3 223.8,141.3 223.5,138.2 220.5,136.2 218.6,134.5 216.7,132.9 213.5,130.8 213.6,128.4 213.6,126.0 212.8,123.5 214.4,121.4 216.1,119.3 216.0,116.8 215.9,114.3Z"/>
<path id="sIL" d="M227.9,149.8 230.9,149.6 233.9,149.5 237.0,149.3 240.0,149.1 243.0,148.8 246.1,148.6 246.9,151.3 247.8,154.1 248.4,155.3 248.8,159.4 249.1,163.5 249.5,167.6 249.9,171.7 250.2,175.8 249.8,179.8 251.1,183.2 248.3,186.1 247.9,189.6 245.5,193.3 244.7,196.0 242.8,196.7 241.0,197.4 238.2,194.8 237.0,192.2 235.7,189.7 234.2,189.0 231.9,187.3 232.8,183.7 233.1,181.9 231.0,180.7 229.2,178.6 226.4,176.6 224.9,174.3 223.5,171.9 224.0,168.4 226.4,164.8 225.6,161.3 226.8,159.0 229.0,157.4 231.1,155.7 231.0,153.1Z"/>
<path id="sIN" d="M248.4,155.3 249.3,155.7 251.1,155.0 252.9,154.4 255.5,154.1 258.1,153.9 260.7,153.6 263.3,153.3 265.8,153.0 265.9,153.5 266.3,157.3 266.8,161.0 267.2,164.8 267.6,168.6 268.1,172.3 268.5,176.1 266.8,178.0 265.0,179.8 263.1,184.0 261.7,186.6 258.3,187.4 256.4,188.3 254.4,189.2 251.2,188.0 247.9,189.6 248.3,186.1 251.1,183.2 249.8,179.8 250.2,175.8 249.9,171.7 249.5,167.6 249.1,163.5 248.8,159.4Z"/>
<path id="sOH" d="M265.9,153.5 268.8,153.1 271.7,152.6 274.6,152.2 276.5,152.9 278.4,153.7 279.7,153.9 282.0,153.4 284.2,152.9 286.1,152.6 288.1,150.7 290.1,148.9 293.0,147.2 293.6,151.1 294.2,155.0 294.9,158.8 294.7,162.7 294.1,167.3 292.0,169.4 290.0,171.5 289.1,174.7 287.4,174.3 286.3,176.4 286.7,178.0 286.1,179.6 284.1,180.1 281.1,177.8 278.6,178.5 276.2,179.1 273.0,178.2 270.7,175.9 268.5,176.1 268.1,172.3 267.6,168.6 267.2,164.8 266.8,161.0 266.3,157.3Z"/>
<path id="sAK" d="M36.3,246.3 39.3,247.0 43.3,248.3 48.0,248.7 53.3,249.0 58.7,276.3 61.3,277.2 64.7,279.0 66.7,280.8 67.0,277.3 70.7,280.0 75.3,284.0 79.7,286.0 80.3,288.0 76.7,289.7 74.0,288.0 70.7,284.7 67.7,281.9 65.3,280.5 61.3,278.5 58.7,277.8 54.7,277.3 50.7,277.0 48.8,278.3 47.0,280.7 45.0,282.0 44.1,279.3 44.8,276.7 43.3,277.3 42.3,280.7 40.7,283.3 39.3,285.5 36.7,288.1 33.3,290.8 29.3,292.8 25.3,294.5 21.3,295.9 16.7,297.3 12.7,298.5 12.4,298.0 16.3,296.7 20.7,294.9 24.7,292.9 28.7,290.9 32.7,288.2 34.7,286.0 35.3,284.0 33.3,283.3 30.0,282.8 27.7,282.8 27.3,280.0 24.7,279.3 23.0,276.7 22.3,274.0 24.0,272.0 25.3,270.3 28.0,269.3 29.3,268.0 27.3,266.7 30.0,265.3 30.7,264.0 27.3,264.3 23.7,264.0 22.3,261.3 24.0,259.7 28.0,259.0 30.3,259.3 31.0,258.0 28.7,256.3 28.0,254.3 25.7,253.0 26.3,252.0 29.3,251.3 31.3,249.3 34.0,247.3ZM15.2,265.3 16.1,265.5 19.0,267.7 18.5,268.3 17.3,267.5ZM19.7,277.3 21.7,277.5 21.8,278.7 19.9,278.8ZM38.3,288.5 41.7,285.9 42.7,286.5 39.3,289.5Z"/>
<path id="sHI" d="M89.6,271.2 90.8,270.2 92.6,270.4 93.0,271.8 91.8,272.9 90.2,272.6ZM86.0,272.5 86.7,272.4 86.7,273.3 86.0,273.3ZM102.0,275.4 103.6,274.9 105.2,276.4 106.5,277.9 105.4,278.5 103.6,277.6 102.4,276.8ZM109.8,279.2 112.2,278.9 114.3,279.4 114.2,280.1 111.8,280.0 109.9,279.9ZM112.1,281.7 113.3,281.6 113.4,282.8 112.2,282.9ZM114.9,281.0 116.6,280.8 117.8,282.0 119.6,282.2 120.3,283.6 118.8,284.6 117.4,284.2 116.6,282.9 115.2,282.4ZM115.1,284.4 116.0,284.4 116.0,285.2 115.1,285.2ZM121.2,287.6 122.4,287.5 124.5,289.2 127.5,290.3 130.0,293.5 128.0,295.2 125.6,296.0 123.6,298.5 121.8,298.3 121.6,295.6 120.2,292.5 120.6,289.8Z"/>
<g id="labels"><g transform="translate(50.3,91.7) scale(1.12,1)"><text class="l" y="-1.5">WA</text><text class="l" y="5.4">12</text></g><g transform="translate(41.7,120.3) scale(1.12,1)"><text class="l" y="-1.5">OR</text><text class="l" y="5.4">7</text></g><g transform="translate(76.7,124.2) scale(1.12,1)"><text class="l" y="-1.5">ID</text><text class="l" y="5.4">4</text></g><g transform="translate(113.0,107.2) scale(1.12,1)"><text class="l" y="-1.5">MT</text><text class="l" y="5.4">3</text></g><g transform="translate(167.5,108.3) scale(1.12,1)"><text class="l" y="-1.5">ND</text><text class="l" y="5.4">3</text></g><g transform="translate(168.0,135.0) scale(1.12,1)"><text class="l" y="-1.5">SD</text><text class="l" y="5.4">3</text></g><g transform="translate(120.8,144.2) scale(1.12,1)"><text class="l" y="-1.5">WY</text><text class="l" y="5.4">3</text></g><g transform="translate(172.2,161.7) scale(1.12,1)"><text class="l" y="-1.5">NE</text><text class="l" y="5.4">5</text></g><g transform="translate(56.7,165.3) scale(1.12,1)"><text class="l" y="-1.5">NV</text><text class="l" y="5.4">6</text></g><g transform="translate(89.2,172.5) scale(1.12,1)"><text class="l" y="-1.5">UT</text><text class="l" y="5.4">6</text></g><g transform="translate(130.0,177.5) scale(1.12,1)"><text class="l" y="-1.5">CO</text><text class="l" y="5.4">9</text></g><g transform="translate(178.0,185.3) scale(1.12,1)"><text class="l" y="-1.5">KS</text><text class="l" y="5.4">6</text></g><g transform="translate(28.7,177.5) scale(1.12,1)"><text class="l" y="-1.5">CA</text><text class="l" y="5.4">55</text></g><g transform="translate(82.5,213.7) scale(1.12,1)"><text class="l" y="-1.5">AZ</text><text class="l" y="5.4">11</text></g><g transform="translate(121.7,220.0) scale(1.12,1)"><text class="l" y="-1.5">NM</text><text class="l" y="5.4">5</text></g><g transform="translate(183.3,213.7) scale(1.12,1)"><text class="l" y="-1.5">OK</text><text class="l" y="5.4">7</text></g><g transform="translate(203.3,121.7) scale(1.12,1)"><text class="l" y="-1.5">MN</text><text class="l" y="5.4">10</text></g><g transform="translate(232.2,133.0) scale(1.12,1)"><text class="l" y="-1.5">WI</text><text class="l" y="5.4">10</text></g><g transform="translate(263.8,138.3) scale(1.12,1)"><text class="l" y="-1.5">MI</text><text class="l" y="5.4">16</text></g><g transform="translate(210.0,154.5) scale(1.12,1)"><text class="l" y="-1.5">IA</text><text class="l" y="5.4">6</text></g><g transform="translate(238.7,170.0) scale(1.12,1)"><text class="l" y="-1.5">IL</text><text class="l" y="5.4">20</text></g><g transform="translate(259.7,169.2) scale(1.12,1)"><text class="l" y="-1.5">IN</text><text class="l" y="5.4">11</text></g><g transform="translate(281.2,166.2) scale(1.12,1)"><text class="l" y="-1.5">OH</text><text class="l" y="5.4">18</text></g><g transform="translate(312.5,155.0) scale(1.12,1)"><text class="l" y="-1.5">PA</text><text class="l" y="5.4">20</text></g><g transform="translate(326.3,132.5) scale(1.12,1)"><text class="l" y="-1.5">NY</text><text class="l" y="5.4">29</text></g><g transform="translate(356.7,102.0) scale(1.12,1)"><text class="l" y="-1.5">ME</text><text class="l" y="5.4">4</text></g><g transform="translate(218.7,188.7) scale(1.12,1)"><text class="l" y="-1.5">MO</text><text class="l" y="5.4">10</text></g><g transform="translate(272.0,190.0) scale(1.12,1)"><text class="l" y="-1.5">KY</text><text class="l" y="5.4">8</text></g><g transform="translate(296.2,179.2) scale(1.12,1)"><text class="l" y="-1.5">WV</text><text class="l" y="5.4">5</text></g><g transform="translate(313.0,184.2) scale(1.12,1)"><text class="l" y="-1.5">VA</text><text class="l" y="5.4">13</text></g><g transform="translate(261.7,206.7) scale(1.12,1)"><text class="l" y="-1.5">TN</text><text class="l" y="5.4">11</text></g><g transform="translate(311.7,202.8) scale(1.12,1)"><text class="l" y="-1.5">NC</text><text class="l" y="5.4">15</text></g><g transform="translate(302.5,219.2) scale(1.12,1)"><text class="l" y="-1.5">SC</text><text class="l" y="5.4">9</text></g><g transform="translate(219.7,219.2) scale(1.12,1)"><text class="l" y="-1.5">AR</text><text class="l" y="5.4">6</text></g><g transform="translate(241.7,234.5) scale(1.12,1)"><text class="l" y="-1.5">MS</text><text class="l" y="5.4">6</text></g><g transform="translate(262.0,232.5) scale(1.12,1)"><text class="l" y="-1.5">AL</text><text class="l" y="5.4">9</text></g><g transform="translate(285.8,231.3) scale(1.12,1)"><text class="l" y="-1.5">GA</text><text class="l" y="5.4">16</text></g><g transform="translate(220.0,250.0) scale(1.12,1)"><text class="l" y="-1.5">LA</text><text class="l" y="5.4">8</text></g><g transform="translate(302.8,264.7) scale(1.12,1)"><text class="l" y="-1.5">FL</text><text class="l" y="5.4">29</text></g><g transform="translate(169.5,249.2) scale(1.12,1)"><text class="l" y="-1.5">TX</text><text class="l" y="5.4">38</text></g><g transform="translate(44.2,265.0) scale(1.12,1)"><text class="l" y="-1.5">AK</text><text class="l" y="5.4">3</text></g><text class="l" x="337.9" y="119.8">VT</text><text class="l" x="339.2" y="126.5">3</text><text class="l" x="346.3" y="121.1">4</text><text class="l" x="346.9" y="127.7" style="font-size:4.6px">NH</text><text class="l" x="124.3" y="294.6">4</text><text class="l" style="fill:#222;font-size:5.6px" x="107.5" y="294.8">HI</text></g>
</defs>
<rect width="1200" height="1032" fill="#fff"/>
<rect x="27.5" y="23.3" width="326.0" height="22.5" fill="#244999"/>
<text class="b" x="37.5" y="39.9" textLength="23.4" lengthAdjust="spacingAndGlyphs">538</text>
<g class="st" transform="translate(0.0,0.0) scale(1.0000,1.0000)"><use href="#sWA" fill="#244999"/><use href="#sOR" fill="#244999"/><use href="#sCA" fill="#244999"/><use href="#sNV" fill="#244999"/><use href="#sID" fill="#244999"/><use href="#sMT" fill="#244999"/><use href="#sWY" fill="#244999"/><use href="#sUT" fill="#244999"/><use href="#sCO" fill="#244999"/><use href="#sAZ" fill="#244999"/><use href="#sNM" fill="#244999"/><use href="#sND" fill="#244999"/><use href="#sSD" fill="#244999"/><use href="#sNE" fill="#244999"/><use href="#sKS" fill="#244999"/><use href="#sOK" fill="#244999"/><use href="#sTX" fill="#244999"/><use href="#sMN" fill="#244999"/><use href="#sIA" fill="#244999"/><use href="#sMO" fill="#244999"/><use href="#sAR" fill="#244999"/><use href="#sLA" fill="#244999"/><use href="#sMS" fill="#244999"/><use href="#sAL" fill="#244999"/><use href="#sGA" fill="#244999"/><use href="#sFL" fill="#244999"/><use href="#sSC" fill="#244999"/><use href="#sNC" fill="#244999"/><use href="#sTN" fill="#244999"/><use href="#sKY" fill="#244999"/><use href="#sVA" fill="#244999"/><use href="#sWV" fill="#244999"/><use href="#sMD" fill="#244999"/><use href="#sDE" fill="#244999"/><use href="#sPA" fill="#244999"/><use href="#sNJ" fill="#244999"/><use href="#sNY" fill="#244999"/><use href="#sCT" fill="#244999"/><use href="#sRI" fill="#244999"/><use href="#sMA" fill="#244999"/><use href="#sVT" fill="#244999"/><use href="#sNH" fill="#244999"/><use href="#sME" fill="#244999"/><use href="#sMI" fill="#244999"/><use href="#sWI" fill="#244999"/><use href="#sIL" fill="#244999"/><use href="#sIN" fill="#244999"/><use href="#sOH" fill="#244999"/><use href="#sAK" fill="#244999" style="stroke:#244999;stroke-width:.3"/><use href="#sHI" fill="#244999" style="stroke:#244999;stroke-width:.3"/><path d="M40.7,73.4 40.6,77.3 38.9,80.0 39.4,83.7 37.4,87.2M333.7,191.5 331.2,193.2 327.7,193.6M335.0,196.1 333.1,198.8 329.5,199.1" fill="none" stroke="#fff" stroke-width="0.7"/><use href="#labels" style="stroke:none"/></g>
<text class="t" x="111.7" y="77.5" textLength="168.1" lengthAdjust="spacingAndGlyphs">People of Color*</text>
<rect x="431.7" y="23.3" width="279.0" height="21.7" fill="#244999"/>
<rect x="710.7" y="23.3" width="47.0" height="21.7" fill="#d22532"/>
<text class="b" x="440.0" y="39.5" textLength="23.4" lengthAdjust="spacingAndGlyphs">461</text>
<text class="b" x="737.1" y="39.5" textLength="15.6" lengthAdjust="spacingAndGlyphs">71</text>
<g class="st" transform="translate(404.4,-1.1) scale(1.0000,1.0000)"><use href="#sWA" fill="#244999"/><use href="#sOR" fill="#244999"/><use href="#sCA" fill="#244999"/><use href="#sNV" fill="#244999"/><use href="#sID" fill="#d22532"/><use href="#sMT" fill="#244999"/><use href="#sWY" fill="#d22532"/><use href="#sUT" fill="#d22532"/><use href="#sCO" fill="#244999"/><use href="#sAZ" fill="#244999"/><use href="#sNM" fill="#244999"/><use href="#sND" fill="#d22532"/><use href="#sSD" fill="#244999"/><use href="#sNE" fill="url(#sb)"/><use href="#sKS" fill="#244999"/><use href="#sOK" fill="#d22532"/><use href="#sTX" fill="#244999"/><use href="#sMN" fill="#244999"/><use href="#sIA" fill="#244999"/><use href="#sMO" fill="#244999"/><use href="#sAR" fill="#d22532"/><use href="#sLA" fill="#d22532"/><use href="#sMS" fill="#d22532"/><use href="#sAL" fill="#d22532"/><use href="#sGA" fill="#244999"/><use href="#sFL" fill="#244999"/><use href="#sSC" fill="#244999"/><use href="#sNC" fill="#244999"/><use href="#sTN" fill="#d22532"/><use href="#sKY" fill="#d22532"/><use href="#sVA" fill="#244999"/><use href="#sWV" fill="#d22532"/><use href="#sMD" fill="#244999"/><use href="#sDE" fill="#244999"/><use href="#sPA" fill="#244999"/><use href="#sNJ" fill="#244999"/><use href="#sNY" fill="#244999"/><use href="#sCT" fill="#244999"/><use href="#sRI" fill="#244999"/><use href="#sMA" fill="#244999"/><use href="#sVT" fill="#244999"/><use href="#sNH" fill="#244999"/><use href="#sME" fill="#244999"/><use href="#sMI" fill="#244999"/><use href="#sWI" fill="#244999"/><use href="#sIL" fill="#244999"/><use href="#sIN" fill="#244999"/><use href="#sOH" fill="#244999"/><use href="#sAK" fill="#244999" style="stroke:#244999;stroke-width:.3"/><use href="#sHI" fill="#244999" style="stroke:#244999;stroke-width:.3"/><path d="M40.7,73.4 40.6,77.3 38.9,80.0 39.4,83.7 37.4,87.2M333.7,191.5 331.2,193.2 327.7,193.6M335.0,196.1 333.1,198.8 329.5,199.1" fill="none" stroke="#fff" stroke-width="0.7"/><use href="#labels" style="stroke:none"/></g>
<text class="t" x="559.4" y="75.5" textLength="78.1" lengthAdjust="spacingAndGlyphs">Women</text>
<rect x="832.3" y="24.3" width="113.4" height="20.0" fill="#244999"/>
<rect x="945.7" y="24.3" width="211.6" height="20.0" fill="#d22532"/>
<text class="b" x="839.3" y="39.7" textLength="23.4" lengthAdjust="spacingAndGlyphs">158</text>
<text class="b" x="1124.9" y="39.7" textLength="23.4" lengthAdjust="spacingAndGlyphs">350</text>
<g class="st" transform="translate(804.3,-2.1) scale(1.0000,1.0000)"><use href="#sWA" fill="#244999"/><use href="#sOR" fill="#244999"/><use href="#sCA" fill="#244999"/><use href="#sNV" fill="#d22532"/><use href="#sID" fill="#d22532"/><use href="#sMT" fill="#d22532"/><use href="#sWY" fill="#d22532"/><use href="#sUT" fill="#d22532"/><use href="#sCO" fill="#d22532"/><use href="#sAZ" fill="#d22532"/><use href="#sNM" fill="#244999"/><use href="#sND" fill="#d22532"/><use href="#sSD" fill="#d22532"/><use href="#sNE" fill="#d22532"/><use href="#sKS" fill="#d22532"/><use href="#sOK" fill="#d22532"/><use href="#sTX" fill="#d22532"/><use href="#sMN" fill="#d22532"/><use href="#sIA" fill="#d22532"/><use href="#sMO" fill="#d22532"/><use href="#sAR" fill="#d22532"/><use href="#sLA" fill="#d22532"/><use href="#sMS" fill="#d22532"/><use href="#sAL" fill="#d22532"/><use href="#sGA" fill="#d22532"/><use href="#sFL" fill="#d22532"/><use href="#sSC" fill="#d22532"/><use href="#sNC" fill="#d22532"/><use href="#sTN" fill="#d22532"/><use href="#sKY" fill="#d22532"/><use href="#sVA" fill="#d22532"/><use href="#sWV" fill="#d22532"/><use href="#sMD" fill="#244999"/><use href="#sDE" fill="#244999"/><use href="#sPA" fill="#d22532"/><use href="#sNJ" fill="#244999"/><use href="#sNY" fill="#244999"/><use href="#sCT" fill="#244999"/><use href="#sRI" fill="#244999"/><use href="#sMA" fill="#244999"/><use href="#sVT" fill="#244999"/><use href="#sNH" fill="#d22532"/><use href="#sME" fill="url(#sr)"/><use href="#sMI" fill="#d22532"/><use href="#sWI" fill="#d22532"/><use href="#sIL" fill="#244999"/><use href="#sIN" fill="#d22532"/><use href="#sOH" fill="#d22532"/><use href="#sAK" fill="#d22532" style="stroke:#d22532;stroke-width:.3"/><use href="#sHI" fill="#244999" style="stroke:#244999;stroke-width:.3"/><path d="M40.7,73.4 40.6,77.3 38.9,80.0 39.4,83.7 37.4,87.2M333.7,191.5 331.2,193.2 327.7,193.6M335.0,196.1 333.1,198.8 329.5,199.1" fill="none" stroke="#fff" stroke-width="0.7"/><use href="#labels" style="stroke:none"/></g>
<text class="t" x="970.4" y="75.0" textLength="44.4" lengthAdjust="spacingAndGlyphs">Men</text>
<rect x="26.0" y="350.0" width="104.7" height="20.7" fill="#244999"/>
<rect x="130.7" y="350.0" width="227.6" height="20.7" fill="#d22532"/>
<text class="b" x="39.3" y="365.8" textLength="23.4" lengthAdjust="spacingAndGlyphs">169</text>
<text class="b" x="316.6" y="365.8" textLength="23.4" lengthAdjust="spacingAndGlyphs">369</text>
<g class="st" transform="translate(-1.8,323.2) scale(1.0207,1.0207)"><use href="#sWA" fill="#244999"/><use href="#sOR" fill="#244999"/><use href="#sCA" fill="#244999"/><use href="#sNV" fill="#d22532"/><use href="#sID" fill="#d22532"/><use href="#sMT" fill="#d22532"/><use href="#sWY" fill="#d22532"/><use href="#sUT" fill="#d22532"/><use href="#sCO" fill="#d22532"/><use href="#sAZ" fill="#d22532"/><use href="#sNM" fill="#d22532"/><use href="#sND" fill="#d22532"/><use href="#sSD" fill="#d22532"/><use href="#sNE" fill="#d22532"/><use href="#sKS" fill="#d22532"/><use href="#sOK" fill="#d22532"/><use href="#sTX" fill="#d22532"/><use href="#sMN" fill="#244999"/><use href="#sIA" fill="#244999"/><use href="#sMO" fill="#d22532"/><use href="#sAR" fill="#d22532"/><use href="#sLA" fill="#d22532"/><use href="#sMS" fill="#d22532"/><use href="#sAL" fill="#d22532"/><use href="#sGA" fill="#d22532"/><use href="#sFL" fill="#d22532"/><use href="#sSC" fill="#d22532"/><use href="#sNC" fill="#d22532"/><use href="#sTN" fill="#d22532"/><use href="#sKY" fill="#d22532"/><use href="#sVA" fill="#d22532"/><use href="#sWV" fill="#d22532"/><use href="#sMD" fill="#d22532"/><use href="#sDE" fill="#d22532"/><use href="#sPA" fill="#d22532"/><use href="#sNJ" fill="#d22532"/><use href="#sNY" fill="#244999"/><use href="#sCT" fill="#244999"/><use href="#sRI" fill="#244999"/><use href="#sMA" fill="#244999"/><use href="#sVT" fill="#244999"/><use href="#sNH" fill="#244999"/><use href="#sME" fill="#244999"/><use href="#sMI" fill="#d22532"/><use href="#sWI" fill="#244999"/><use href="#sIL" fill="#d22532"/><use href="#sIN" fill="#d22532"/><use href="#sOH" fill="#d22532"/><use href="#sAK" fill="#d22532" style="stroke:#d22532;stroke-width:.3"/><use href="#sHI" fill="#244999" style="stroke:#244999;stroke-width:.3"/><path d="M40.7,73.4 40.6,77.3 38.9,80.0 39.4,83.7 37.4,87.2M333.7,191.5 331.2,193.2 327.7,193.6M335.0,196.1 333.1,198.8 329.5,199.1" fill="none" stroke="#fff" stroke-width="0.7"/><use href="#labels" style="stroke:none"/></g>
<text class="t" x="123.7" y="399.0" textLength="136.1" lengthAdjust="spacingAndGlyphs">White People</text>
<rect x="831.0" y="350.0" width="130.7" height="20.7" fill="#244999"/>
<rect x="961.7" y="350.0" width="199.3" height="20.7" fill="#d22532"/>
<text class="b" x="844.3" y="365.8" textLength="23.4" lengthAdjust="spacingAndGlyphs">211</text>
<text class="b" x="1128.3" y="365.8" textLength="23.4" lengthAdjust="spacingAndGlyphs">327</text>
<g class="st" transform="translate(803.5,323.4) scale(1.0115,1.0130)"><use href="#sWA" fill="#244999"/><use href="#sOR" fill="#244999"/><use href="#sCA" fill="#244999"/><use href="#sNV" fill="#d22532"/><use href="#sID" fill="#d22532"/><use href="#sMT" fill="#d22532"/><use href="#sWY" fill="#d22532"/><use href="#sUT" fill="#d22532"/><use href="#sCO" fill="#244999"/><use href="#sAZ" fill="#d22532"/><use href="#sNM" fill="#d22532"/><use href="#sND" fill="#d22532"/><use href="#sSD" fill="#d22532"/><use href="#sNE" fill="#d22532"/><use href="#sKS" fill="#d22532"/><use href="#sOK" fill="#d22532"/><use href="#sTX" fill="#d22532"/><use href="#sMN" fill="#244999"/><use href="#sIA" fill="#244999"/><use href="#sMO" fill="#d22532"/><use href="#sAR" fill="#d22532"/><use href="#sLA" fill="#d22532"/><use href="#sMS" fill="#d22532"/><use href="#sAL" fill="#d22532"/><use href="#sGA" fill="#d22532"/><use href="#sFL" fill="#d22532"/><use href="#sSC" fill="#d22532"/><use href="#sNC" fill="#d22532"/><use href="#sTN" fill="#d22532"/><use href="#sKY" fill="#d22532"/><use href="#sVA" fill="#d22532"/><use href="#sWV" fill="#d22532"/><use href="#sMD" fill="#244999"/><use href="#sDE" fill="#244999"/><use href="#sPA" fill="#d22532"/><use href="#sNJ" fill="#d22532"/><use href="#sNY" fill="#244999"/><use href="#sCT" fill="#244999"/><use href="#sRI" fill="#244999"/><use href="#sMA" fill="#244999"/><use href="#sVT" fill="#244999"/><use href="#sNH" fill="#244999"/><use href="#sME" fill="#244999"/><use href="#sMI" fill="#d22532"/><use href="#sWI" fill="#244999"/><use href="#sIL" fill="#244999"/><use href="#sIN" fill="#d22532"/><use href="#sOH" fill="#d22532"/><use href="#sAK" fill="#d22532" style="stroke:#d22532;stroke-width:.3"/><use href="#sHI" fill="#244999" style="stroke:#244999;stroke-width:.3"/><path d="M40.7,73.4 40.6,77.3 38.9,80.0 39.4,83.7 37.4,87.2M333.7,191.5 331.2,193.2 327.7,193.6M335.0,196.1 333.1,198.8 329.5,199.1" fill="none" stroke="#fff" stroke-width="0.7"/><use href="#labels" style="stroke:none"/></g>
<text class="t" x="916.0" y="400.0" textLength="143.8" lengthAdjust="spacingAndGlyphs">White Women</text>
<rect x="25.7" y="684.0" width="133.6" height="21.7" fill="#244999"/>
<rect x="159.3" y="684.0" width="199.0" height="21.7" fill="#d22532"/>
<text class="b" x="36.0" y="700.2" textLength="23.4" lengthAdjust="spacingAndGlyphs">216</text>
<text class="b" x="321.6" y="700.2" textLength="23.4" lengthAdjust="spacingAndGlyphs">322</text>
<g class="st" transform="translate(-1.8,657.7) scale(1.0210,1.0245)"><use href="#sWA" fill="#244999"/><use href="#sOR" fill="#244999"/><use href="#sCA" fill="#244999"/><use href="#sNV" fill="#d22532"/><use href="#sID" fill="#d22532"/><use href="#sMT" fill="#d22532"/><use href="#sWY" fill="#d22532"/><use href="#sUT" fill="#d22532"/><use href="#sCO" fill="#d22532"/><use href="#sAZ" fill="#d22532"/><use href="#sNM" fill="#d22532"/><use href="#sND" fill="#d22532"/><use href="#sSD" fill="#d22532"/><use href="#sNE" fill="#d22532"/><use href="#sKS" fill="#d22532"/><use href="#sOK" fill="#d22532"/><use href="#sTX" fill="#d22532"/><use href="#sMN" fill="#244999"/><use href="#sIA" fill="#244999"/><use href="#sMO" fill="#d22532"/><use href="#sAR" fill="#d22532"/><use href="#sLA" fill="#d22532"/><use href="#sMS" fill="#d22532"/><use href="#sAL" fill="#d22532"/><use href="#sGA" fill="#d22532"/><use href="#sFL" fill="#d22532"/><use href="#sSC" fill="#d22532"/><use href="#sNC" fill="#d22532"/><use href="#sTN" fill="#d22532"/><use href="#sKY" fill="#d22532"/><use href="#sVA" fill="#d22532"/><use href="#sWV" fill="#d22532"/><use href="#sMD" fill="#244999"/><use href="#sDE" fill="#244999"/><use href="#sPA" fill="#d22532"/><use href="#sNJ" fill="#244999"/><use href="#sNY" fill="#244999"/><use href="#sCT" fill="#244999"/><use href="#sRI" fill="#244999"/><use href="#sMA" fill="#244999"/><use href="#sVT" fill="#244999"/><use href="#sNH" fill="#244999"/><use href="#sME" fill="#244999"/><use href="#sMI" fill="#d22532"/><use href="#sWI" fill="#244999"/><use href="#sIL" fill="#244999"/><use href="#sIN" fill="#d22532"/><use href="#sOH" fill="#d22532"/><use href="#sAK" fill="#d22532" style="stroke:#d22532;stroke-width:.3"/><use href="#sHI" fill="#244999" style="stroke:#244999;stroke-width:.3"/><path d="M40.7,73.4 40.6,77.3 38.9,80.0 39.4,83.7 37.4,87.2M333.7,191.5 331.2,193.2 327.7,193.6M335.0,196.1 333.1,198.8 329.5,199.1" fill="none" stroke="#fff" stroke-width="0.7"/><use href="#labels" style="stroke:none"/></g>
<text class="t" x="67.0" y="735.7" textLength="257.8" lengthAdjust="spacingAndGlyphs">College Educated Whites</text>
<rect x="429.0" y="684.0" width="38.7" height="21.7" fill="#244999"/>
<rect x="467.7" y="684.0" width="290.6" height="21.7" fill="#d22532"/>
<text class="b" x="435.0" y="700.2" textLength="15.6" lengthAdjust="spacingAndGlyphs">64</text>
<text class="b" x="724.3" y="700.2" textLength="23.4" lengthAdjust="spacingAndGlyphs">474</text>
<g class="st" transform="translate(401.2,658.7) scale(1.0100,1.0090)"><use href="#sWA" fill="#244999"/><use href="#sOR" fill="#d22532"/><use href="#sCA" fill="#d22532"/><use href="#sNV" fill="#d22532"/><use href="#sID" fill="#d22532"/><use href="#sMT" fill="#d22532"/><use href="#sWY" fill="#d22532"/><use href="#sUT" fill="#d22532"/><use href="#sCO" fill="#d22532"/><use href="#sAZ" fill="#d22532"/><use href="#sNM" fill="#d22532"/><use href="#sND" fill="#d22532"/><use href="#sSD" fill="#d22532"/><use href="#sNE" fill="#d22532"/><use href="#sKS" fill="#d22532"/><use href="#sOK" fill="#d22532"/><use href="#sTX" fill="#d22532"/><use href="#sMN" fill="#244999"/><use href="#sIA" fill="#244999"/><use href="#sMO" fill="#d22532"/><use href="#sAR" fill="#d22532"/><use href="#sLA" fill="#d22532"/><use href="#sMS" fill="#d22532"/><use href="#sAL" fill="#d22532"/><use href="#sGA" fill="#d22532"/><use href="#sFL" fill="#d22532"/><use href="#sSC" fill="#d22532"/><use href="#sNC" fill="#d22532"/><use href="#sTN" fill="#d22532"/><use href="#sKY" fill="#d22532"/><use href="#sVA" fill="#d22532"/><use href="#sWV" fill="#d22532"/><use href="#sMD" fill="#d22532"/><use href="#sDE" fill="#d22532"/><use href="#sPA" fill="#d22532"/><use href="#sNJ" fill="#d22532"/><use href="#sNY" fill="#d22532"/><use href="#sCT" fill="#244999"/><use href="#sRI" fill="#244999"/><use href="#sMA" fill="#244999"/><use href="#sVT" fill="#244999"/><use href="#sNH" fill="#d22532"/><use href="#sME" fill="#244999"/><use href="#sMI" fill="#d22532"/><use href="#sWI" fill="#d22532"/><use href="#sIL" fill="#d22532"/><use href="#sIN" fill="#d22532"/><use href="#sOH" fill="#d22532"/><use href="#sAK" fill="#d22532" style="stroke:#d22532;stroke-width:.3"/><use href="#sHI" fill="#244999" style="stroke:#244999;stroke-width:.3"/><path d="M40.7,73.4 40.6,77.3 38.9,80.0 39.4,83.7 37.4,87.2M333.7,191.5 331.2,193.2 327.7,193.6M335.0,196.1 333.1,198.8 329.5,199.1" fill="none" stroke="#fff" stroke-width="0.7"/><use href="#labels" style="stroke:none"/></g>
<text class="t" x="442.0" y="731.7" textLength="307.8" lengthAdjust="spacingAndGlyphs">Non-College-Educated Whites</text>
<rect x="831.7" y="684.0" width="28.3" height="21.7" fill="#244999"/>
<rect x="860.0" y="684.0" width="300.0" height="21.7" fill="#d22532"/>
<text class="b" x="836.7" y="700.2" textLength="15.6" lengthAdjust="spacingAndGlyphs">45</text>
<text class="b" x="1127.3" y="700.2" textLength="23.4" lengthAdjust="spacingAndGlyphs">493</text>
<g class="st" transform="translate(803.7,658.7) scale(1.0070,1.0080)"><use href="#sWA" fill="#244999"/><use href="#sOR" fill="#244999"/><use href="#sCA" fill="#d22532"/><use href="#sNV" fill="#d22532"/><use href="#sID" fill="#d22532"/><use href="#sMT" fill="#d22532"/><use href="#sWY" fill="#d22532"/><use href="#sUT" fill="#d22532"/><use href="#sCO" fill="#d22532"/><use href="#sAZ" fill="#d22532"/><use href="#sNM" fill="#d22532"/><use href="#sND" fill="#d22532"/><use href="#sSD" fill="#d22532"/><use href="#sNE" fill="#d22532"/><use href="#sKS" fill="#d22532"/><use href="#sOK" fill="#d22532"/><use href="#sTX" fill="#d22532"/><use href="#sMN" fill="#d22532"/><use href="#sIA" fill="#d22532"/><use href="#sMO" fill="#d22532"/><use href="#sAR" fill="#d22532"/><use href="#sLA" fill="#d22532"/><use href="#sMS" fill="#d22532"/><use href="#sAL" fill="#d22532"/><use href="#sGA" fill="#d22532"/><use href="#sFL" fill="#d22532"/><use href="#sSC" fill="#d22532"/><use href="#sNC" fill="#d22532"/><use href="#sTN" fill="#d22532"/><use href="#sKY" fill="#d22532"/><use href="#sVA" fill="#d22532"/><use href="#sWV" fill="#d22532"/><use href="#sMD" fill="#d22532"/><use href="#sDE" fill="#d22532"/><use href="#sPA" fill="#d22532"/><use href="#sNJ" fill="#d22532"/><use href="#sNY" fill="#d22532"/><use href="#sCT" fill="#d22532"/><use href="#sRI" fill="#244999"/><use href="#sMA" fill="#244999"/><use href="#sVT" fill="#244999"/><use href="#sNH" fill="#d22532"/><use href="#sME" fill="url(#sr)"/><use href="#sMI" fill="#d22532"/><use href="#sWI" fill="#d22532"/><use href="#sIL" fill="#d22532"/><use href="#sIN" fill="#d22532"/><use href="#sOH" fill="#d22532"/><use href="#sAK" fill="#d22532" style="stroke:#d22532;stroke-width:.3"/><use href="#sHI" fill="#244999" style="stroke:#244999;stroke-width:.3"/><path d="M40.7,73.4 40.6,77.3 38.9,80.0 39.4,83.7 37.4,87.2M333.7,191.5 331.2,193.2 327.7,193.6M335.0,196.1 333.1,198.8 329.5,199.1" fill="none" stroke="#fff" stroke-width="0.7"/><use href="#labels" style="stroke:none"/></g>
<text class="t" x="940.4" y="735.7" textLength="109.4" lengthAdjust="spacingAndGlyphs">White Men</text>
<rect x="359.7" y="487.8" width="10.6" height="9.8" fill="#244999"/><text class="l" x="365" y="494.6">11</text><text class="l" style="fill:#222;text-anchor:start;font-size:5.8px" x="373.3" y="494.8">MA</text>
<rect x="359.7" y="500.0" width="10.6" height="9.8" fill="#244999"/><text class="l" x="365" y="506.8">4</text><text class="l" style="fill:#222;text-anchor:start;font-size:5.8px" x="373.3" y="507.0">RI</text>
<rect x="359.7" y="512.3" width="10.6" height="9.8" fill="#244999"/><text class="l" x="365" y="519.1">7</text><text class="l" style="fill:#222;text-anchor:start;font-size:5.8px" x="373.3" y="519.3">CT</text>
<rect x="359.7" y="524.5" width="10.6" height="9.8" fill="#d22532"/><text class="l" x="365" y="531.3">14</text><text class="l" style="fill:#222;text-anchor:start;font-size:5.8px" x="373.3" y="531.5">NJ</text>
<rect x="359.7" y="536.7" width="10.6" height="9.8" fill="#d22532"/><text class="l" x="365" y="543.5">3</text><text class="l" style="fill:#222;text-anchor:start;font-size:5.8px" x="373.3" y="543.7">DE</text>
<rect x="359.7" y="549.0" width="10.6" height="9.8" fill="#d22532"/><text class="l" x="365" y="555.8">10</text><text class="l" style="fill:#222;text-anchor:start;font-size:5.8px" x="373.3" y="556.0">MD</text>
<rect x="359.7" y="561.2" width="10.6" height="9.8" fill="#244999"/><text class="l" x="365" y="568.0">3</text><text class="l" style="fill:#222;text-anchor:start;font-size:5.8px" x="373.3" y="568.2">DC</text>
<text class="c" x="527.0" y="448.4" textLength="119.8" lengthAdjust="spacingAndGlyphs">How the</text>
<text class="c" x="492.0" y="485.0" textLength="198.0" lengthAdjust="spacingAndGlyphs">Electoral Map</text>
<text class="c" x="502.8" y="521.6" textLength="151.2" lengthAdjust="spacingAndGlyphs">would look</text>
<text class="c" x="482.8" y="558.5" textLength="84.2" lengthAdjust="spacingAndGlyphs">if only</text>
<text class="c" x="556.0" y="596.0" textLength="90.0" lengthAdjust="spacingAndGlyphs">voted.</text>
<rect x="577.5" y="560.4" width="107.1" height="2.7" fill="#000"/>
<text class="f" x="48" y="998" textLength="746" lengthAdjust="spacingAndGlyphs">*The reason I didn't break down the POC vote into various groups by gender, ethnicity,</text>
<text class="f" x="48" y="1020.8" textLength="701.5" lengthAdjust="spacingAndGlyphs">or education level is that no matter how I broke it down, it was always 100% blue.</text>
</svg></body></html>
